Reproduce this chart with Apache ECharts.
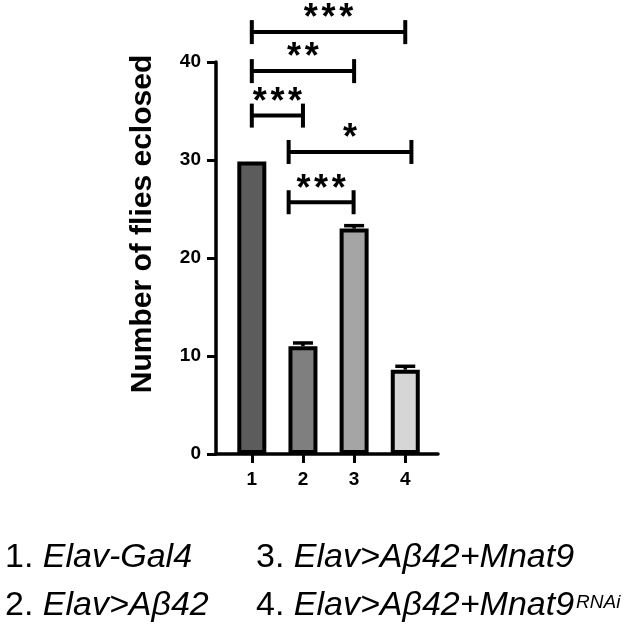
<!DOCTYPE html>
<html>
<head>
<meta charset="utf-8">
<script src="https://cdn.jsdelivr.net/npm/echarts@6/dist/echarts.min.js"></script>
<style>
html,body{margin:0;padding:0;background:#fff;}
#chart{width:633px;height:631px;}
</style>
</head>
<body>
<div id="chart"></div>
<script>
// ---- data ----
const categories = [1, 2, 3, 4];
const meanValues = [29.85, 11.0, 23.0, 8.6];
const semValues = [0, 0.33, 0.3, 0.35];
const yTicks = [0, 10, 20, 30, 40];
const xTicks = [1, 2, 3, 4];

// significance brackets (data units)
const bracketStarts = [1, 1, 1, 1.72, 1.72];
const bracketEnds = [4, 3, 2, 4.12, 2.99];
const bracketLevels = [43.05, 39.07, 34.53, 30.82, 25.69];
const bracketLabels = ['***', '**', '***', '*', '***'];

// legend text
const legendNumbers = ['1.', '2.', '3.', '4.'];
const legendNames = ['Elav-Gal4', 'Elav>Aβ42', 'Elav>Aβ42+Mnat9', 'Elav>Aβ42+Mnat9'];
const legendSups = ['', '', '', 'RNAi'];

const yTitle = 'Number of flies eclosed';

// ---- styles ----
const barColors = ['#5c5c5c', '#7f7f7f', '#a5a5a5', '#d6d6d6'];
const FONT = 'Liberation Sans, Arial, sans-serif';

const chart = echarts.init(document.getElementById('chart'), null, {renderer: 'canvas'});

const barData = categories.map((c, i) => ({
  value: [c, meanValues[i]],
  itemStyle: {color: barColors[i]}
}));
const errData = categories.map((c, i) => [c, meanValues[i], semValues[i]]);
const bracketData = bracketStarts.map((s, i) => [s, bracketEnds[i], bracketLevels[i], i]);

const legendGraphics = [];
const legendPos = [[5, 540.6], [5, 588.6], [256, 540.6], [256, 588.6]];
legendNumbers.forEach((n, i) => {
  let txt = '{n|' + n + ' }{i|' + legendNames[i] + '}';
  if (legendSups[i]) txt += '{s|' + legendSups[i] + '}';
  legendGraphics.push({
    type: 'text',
    x: legendPos[i][0],
    y: legendPos[i][1],
    style: {
      text: txt,
      verticalAlign: 'top',
      align: 'left',
      rich: {
        n: {fontSize: 34, fontFamily: FONT, fill: '#000', color: '#000'},
        i: {fontSize: 34, fontFamily: FONT, fontStyle: 'italic', fill: '#000', color: '#000'},
        s: {fontSize: 19, fontFamily: FONT, fontStyle: 'italic', fill: '#000', color: '#000', verticalAlign: 'top', padding: [5, 0, 0, 2]}
      }
    }
  });
});

const option = {
  animation: false,
  backgroundColor: '#fff',
  grid: {left: 216, right: 195, top: 62, bottom: 177, containLabel: false},
  xAxis: {
    type: 'value',
    min: 0.3,
    max: 4.64,
    splitLine: {show: false},
    axisLine: {show: true, onZero: false, lineStyle: {color: '#000', width: 3.5}},
    axisTick: {show: true, customValues: xTicks, length: 9, lineStyle: {color: '#000', width: 3}},
    axisLabel: {customValues: xTicks, color: '#000', fontSize: 19, fontWeight: 'bold', fontFamily: FONT, margin: 16}
  },
  yAxis: {
    type: 'value',
    min: 0,
    max: 40,
    interval: 10,
    splitLine: {show: false},
    axisLine: {show: true, lineStyle: {color: '#000', width: 3.5}},
    axisTick: {show: true, length: 9, lineStyle: {color: '#000', width: 3}},
    axisLabel: {color: '#000', fontSize: 19, fontWeight: 'bold', fontFamily: FONT, margin: 15,
      customValues: yTicks}
  },
  graphic: [
    {
      type: 'text',
      x: 142.6,
      y: 224,
      rotation: Math.PI / 2,
      style: {
        text: yTitle,
        align: 'center',
        verticalAlign: 'middle',
        fontSize: 30,
        fontWeight: 'bold',
        fontFamily: FONT,
        fill: '#000'
      }
    }
  ].concat(legendGraphics),
  series: [
    {
      type: 'bar',
      data: barData,
      barWidth: 29,
      itemStyle: {borderColor: '#000', borderWidth: 4},
      z: 2
    },
    {
      type: 'custom',
      data: errData,
      z: 3,
      encode: {x: 0, y: 1},
      renderItem: function (params, api) {
        const sem = api.value(2);
        if (!(sem > 0)) return null;
        const x = api.value(0), m = api.value(1);
        const base = api.coord([x, m]);
        const top = api.coord([x, m + sem]);
        return {
          type: 'group',
          children: [
            {type: 'line', shape: {x1: base[0], y1: base[1], x2: top[0], y2: top[1]}, style: {stroke: '#000', lineWidth: 3.5}},
            {type: 'line', shape: {x1: top[0] - 10, y1: top[1], x2: top[0] + 10, y2: top[1]}, style: {stroke: '#000', lineWidth: 3.5}}
          ]
        };
      }
    },
    {
      type: 'custom',
      data: bracketData,
      clip: false,
      z: 4,
      encode: {x: [0, 1], y: 2},
      renderItem: function (params, api) {
        const p1 = api.coord([api.value(0), api.value(2)]);
        const p2 = api.coord([api.value(1), api.value(2)]);
        const label = bracketLabels[api.value(3)];
        const y = p1[1];
        const children = [
          {type: 'line', shape: {x1: p1[0], y1: y, x2: p2[0], y2: y}, style: {stroke: '#000', lineWidth: 4}},
          {type: 'line', shape: {x1: p1[0], y1: y - 12, x2: p1[0], y2: y + 12}, style: {stroke: '#000', lineWidth: 4}},
          {type: 'line', shape: {x1: p2[0], y1: y - 12, x2: p2[0], y2: y + 12}, style: {stroke: '#000', lineWidth: 4}}
        ];
        const n = label.length;
        const cx = (p1[0] + p2[0]) / 2;
        const gap = 17.7;
        for (let k = 0; k < n; k++) {
          children.push({
            type: 'text',
            x: cx + (k - (n - 1) / 2) * gap,
            y: y - 12.6,
            style: {text: '*', align: 'center', verticalAlign: 'middle', fontSize: 36, fontWeight: 'bold', fontFamily: FONT, fill: '#000'}
          });
        }
        return {type: 'group', children: children};
      }
    }
  ]
};
chart.setOption(option);
</script>
</body>
</html>
